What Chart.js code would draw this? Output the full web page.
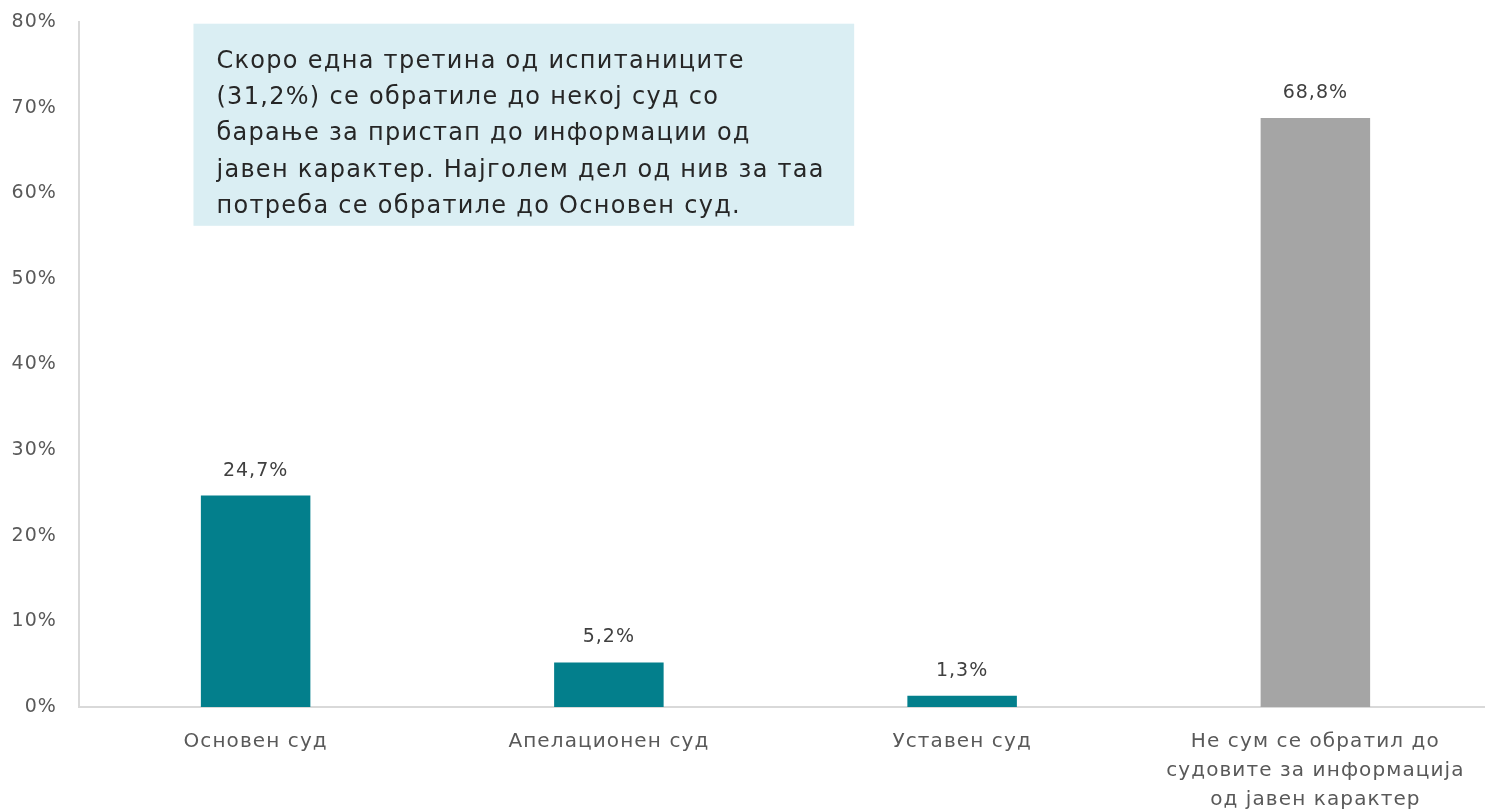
<!DOCTYPE html>
<html><head><meta charset="utf-8">
<script src="https://cdn.jsdelivr.net/npm/chart.js@4.4.1/dist/chart.umd.min.js"></script>
<style>html,body{margin:0;padding:0;overflow:hidden;background:#fff}#wrap{width:1492px;height:812px}</style>
</head><body><div id="wrap"><canvas id="c" width="1492" height="812"></canvas></div>
<script>
const categories = ["Основен суд", "Апелационен суд", "Уставен суд", ["Не сум се обратил до", "судовите за информација", "од јавен карактер"]];
const values = [24.7, 5.2, 1.3, 68.8];
const valueLabels = ["24,7%", "5,2%", "1,3%", "68,8%"];
const barColors = ["#037F8C", "#037F8C", "#037F8C", "#A5A5A5"];
const noteLines = [
  "Скоро една третина од испитаниците",
  "(31,2%) се обратиле до некој суд со",
  "барање за пристап до информации од",
  "јавен карактер. Најголем дел од нив за таа",
  "потреба се обратиле до Основен суд."
];
const FONT = "'DejaVu Sans', sans-serif";

const spacingPlugin = {
  id: 'spacing',
  beforeLayout(chart) { chart.ctx.letterSpacing = "1.1px"; },
  beforeDraw(chart) { chart.ctx.letterSpacing = "1.1px"; }
};
const labelPlugin = {
  id: 'labels',
  afterDatasetsDraw(chart) {
    const ctx = chart.ctx;
    const meta = chart.getDatasetMeta(0);
    ctx.save();
    ctx.letterSpacing = "1px";
    ctx.font = "19px " + FONT;
    ctx.fillStyle = "#404040";
    ctx.textAlign = "center";
    ctx.textBaseline = "alphabetic";
    meta.data.forEach((bar, i) => {
      ctx.fillText(valueLabels[i], bar.x, bar.y - 20);
    });
    ctx.restore();
  }
};
const notePlugin = {
  id: 'note',
  afterDraw(chart) {
    const ctx = chart.ctx;
    const xs = chart.scales.x, ys = chart.scales.y;
    const left = xs.left + (xs.right - xs.left) * 0.0810;
    const right = xs.left + (xs.right - xs.left) * 0.5486;
    const top = ys.getPixelForValue(79.8);
    const bottom = ys.getPixelForValue(56.2);
    ctx.save();
    ctx.fillStyle = "#DAEEF3";
    ctx.fillRect(left, top, right - left, bottom - top);
    ctx.fillStyle = "#262626";
    ctx.font = "24px " + FONT;
    ctx.letterSpacing = "1.3px";
    ctx.textAlign = "left";
    ctx.textBaseline = "middle";
    noteLines.forEach((t, i) => ctx.fillText(t, left + 23, top + 38 + i * 36.2));
    ctx.restore();
  }
};

new Chart(document.getElementById('c'), {
  type: 'bar',
  data: { labels: categories, datasets: [{ data: values, backgroundColor: barColors, barPercentage: 0.62, categoryPercentage: 0.5 }] },
  options: {
    responsive: false, animation: false,
    layout: { padding: { top: 22, right: 0, left: 0, bottom: 0 } },
    plugins: { legend: { display: false }, tooltip: { enabled: false } },
    scales: {
      y: {
        min: 0, max: 80,
        ticks: { stepSize: 10, callback: v => v + "%", color: "#595959", font: { size: 19, family: FONT }, padding: 22 },
        grid: { display: false, drawTicks: false },
        border: { display: true, color: "#D9D9D9", width: 2 },
        afterFit: s => { s.width = 79; s.paddingTop = 0; s.paddingBottom = 0; }
      },
      x: {
        ticks: { color: "#595959", font: { size: 20, family: FONT, lineHeight: 1.45 }, padding: 20, maxRotation: 0, autoSkip: false },
        grid: { display: false, drawTicks: false },
        border: { display: true, color: "#D9D9D9", width: 2 },
        afterFit: s => { s.height = 105; s.paddingLeft = 0; s.paddingRight = 0; }
      }
    }
  },
  plugins: [spacingPlugin, labelPlugin, notePlugin]
});
</script></body></html>
